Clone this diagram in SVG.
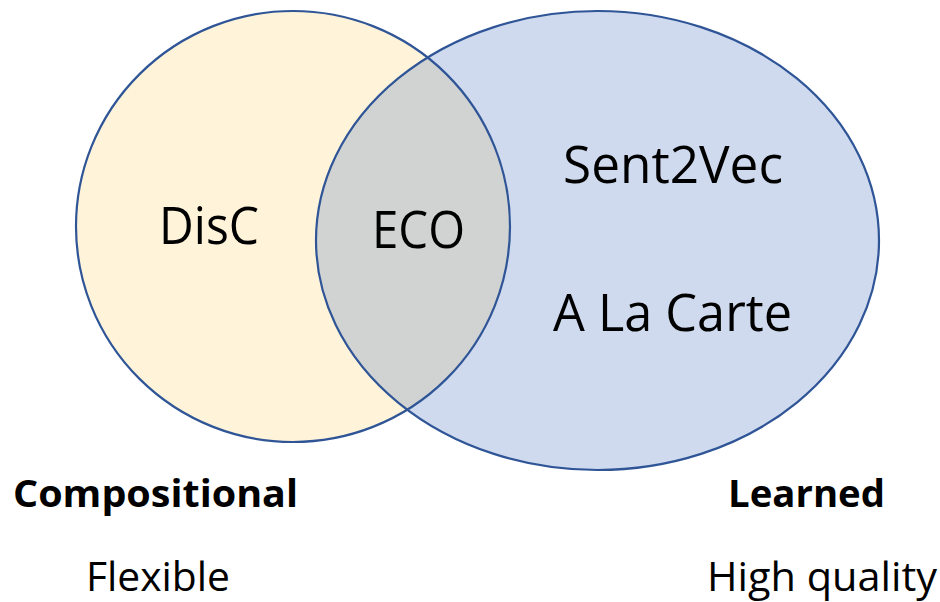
<svg xmlns="http://www.w3.org/2000/svg" width="940" height="602" viewBox="0 0 940 602">
<style>
.ring{fill:none;stroke:#2F5597;stroke-width:2.2}
.lbl{font-family:"Open Sans","Noto Sans",sans-serif;fill:#000}
.big{font-size:51px}
.mid{font-size:40px}
.bold{font-size:38px;font-weight:bold}
</style>
<defs>
<clipPath id="clipL"><ellipse cx="293" cy="226.5" rx="217" ry="215.5"/></clipPath>
</defs>
<rect width="940" height="602" fill="#fff"/>
<g id="compositional">
<ellipse cx="293" cy="226.5" rx="217" ry="215.5" fill="#FFF4DA"/>
</g>
<g id="learned">
<ellipse cx="597.5" cy="240.5" rx="281.5" ry="229.5" fill="#CFDAEE"/>
</g>
<g id="overlap">
<ellipse cx="597.5" cy="240.5" rx="281.5" ry="229.5" fill="#D0D3D2" clip-path="url(#clipL)"/>
</g>
<g id="outlines">
<ellipse class="ring" cx="293" cy="226.5" rx="217" ry="215.5"/>
<ellipse class="ring" cx="597.5" cy="240.5" rx="281.5" ry="229.5"/>
</g>
<g id="labels">
<text class="lbl big" x="159" y="244" textLength="100" lengthAdjust="spacingAndGlyphs">DisC</text>
<text class="lbl big" x="372" y="248" textLength="93" lengthAdjust="spacingAndGlyphs">ECO</text>
<text class="lbl big" x="563" y="183" textLength="220" lengthAdjust="spacingAndGlyphs">Sent2Vec</text>
<text class="lbl big" x="553" y="331" textLength="239" lengthAdjust="spacingAndGlyphs">A La Carte</text>
<text class="lbl bold" x="13" y="507" textLength="285" lengthAdjust="spacingAndGlyphs">Compositional</text>
<text class="lbl bold" x="728" y="507" textLength="157" lengthAdjust="spacingAndGlyphs">Learned</text>
<text class="lbl mid" x="86" y="591" textLength="144" lengthAdjust="spacingAndGlyphs">Flexible</text>
<text class="lbl mid" x="707" y="591" textLength="230" lengthAdjust="spacingAndGlyphs">High quality</text>
</g>
</svg>
